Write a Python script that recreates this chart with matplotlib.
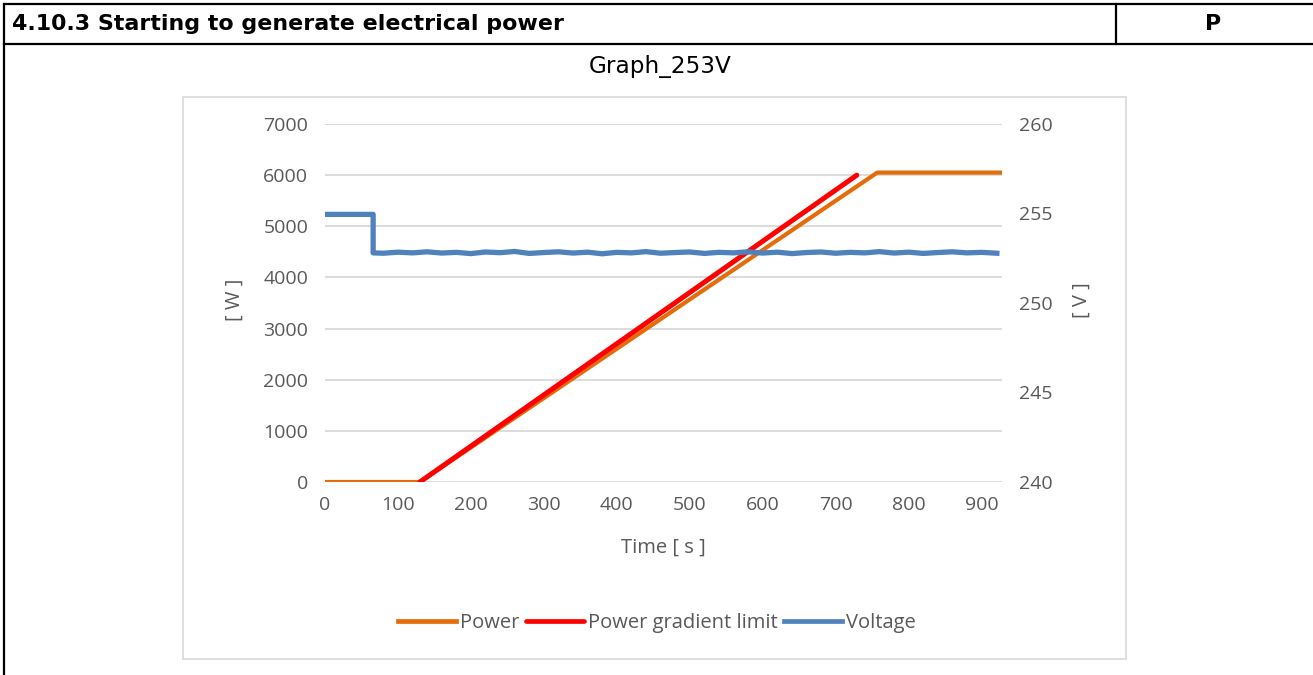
import matplotlib.pyplot as plt
from matplotlib.lines import Line2D
from matplotlib.patches import Rectangle

W, H = 1313, 675

# series
power_t = [0, 130, 757, 926]
power_w = [0, 0, 6050, 6050]

limit_t = [130, 729]
limit_w = [0, 6000]

volt_t = [0, 66, 66, 80, 100, 120, 140, 160, 180, 200, 220, 240, 260, 280, 300,
          320, 340, 360, 380, 400, 420, 440, 460, 480, 500, 520, 540, 560, 580,
          600, 620, 640, 660, 680, 700, 720, 740, 760, 780, 800, 820, 840, 860,
          880, 900, 921]
volt_v = [254.95, 254.95, 252.80, 252.78, 252.84, 252.80, 252.86, 252.79, 252.83,
          252.76, 252.85, 252.81, 252.88, 252.77, 252.82, 252.86, 252.79, 252.84,
          252.75, 252.83, 252.80, 252.87, 252.78, 252.82, 252.85, 252.77, 252.83,
          252.80, 252.86, 252.79, 252.84, 252.76, 252.82, 252.85, 252.78, 252.83,
          252.80, 252.87, 252.79, 252.84, 252.77, 252.82, 252.86, 252.80, 252.83,
          252.78]

x_ticks = [0, 100, 200, 300, 400, 500, 600, 700, 800, 900]
w_ticks = [0, 1000, 2000, 3000, 4000, 5000, 6000, 7000]
v_ticks = [240, 245, 250, 255, 260]

header = '4.10.3 Starting to generate electrical power'
verdict = 'P'
title = 'Graph_253V'

ORANGE = '#E46C0A'
RED = '#FF0000'
BLUE = '#4F81BD'
GREY_TXT = '#595959'
GRID = '#D9D9D9'

plt.rcParams['font.family'] = ['Open Sans', 'DejaVu Sans']

fig = plt.figure(figsize=(W / 100, H / 100), dpi=100)


def fx(px):
    return px / W


def fy(py):
    return 1 - py / H


# table frame
frame = dict(color='black', lw=1.6, transform=fig.transFigure)
fig.add_artist(Line2D([fx(4), 1], [fy(4), fy(4)], **frame))
fig.add_artist(Line2D([fx(4), 1], [fy(44), fy(44)], **frame))
fig.add_artist(Line2D([fx(4), fx(4)], [fy(4), 0], **frame))
fig.add_artist(Line2D([fx(1116), fx(1116)], [fy(4), fy(44)], **frame))

fig.text(fx(12), fy(24), header, family='DejaVu Sans', fontweight='bold',
         fontsize=15.9, va='center', ha='left')
fig.text(fx(1213), fy(24), verdict, family='DejaVu Sans', fontweight='bold',
         fontsize=15.9, va='center', ha='center')
fig.text(fx(660), fy(66), title, family='DejaVu Sans', fontsize=16.7,
         va='center', ha='center')

# chart box
fig.add_artist(Rectangle((fx(183), fy(659)), fx(1126) - fx(183), fy(97) - fy(659),
                         transform=fig.transFigure, fill=False, ec=GRID, lw=1.2))

ax = fig.add_axes([fx(325), fy(482), fx(1002) - fx(325), fy(124) - fy(482)])
ax2 = ax.twinx()

l1, = ax.plot(power_t, power_w, color=ORANGE, lw=3.0, zorder=3)
l2, = ax.plot(limit_t, limit_w, color=RED, lw=3.6, solid_capstyle='round', zorder=4)
l3, = ax2.plot(volt_t, volt_v, color=BLUE, lw=3.8, zorder=5)

ax.set_xlim(0, 928)
ax.set_ylim(0, 7000)
ax2.set_ylim(240, 260)
ax.set_xticks(x_ticks)
ax.set_yticks(w_ticks)
ax2.set_yticks(v_ticks)

ax.grid(axis='y', color=GRID, lw=1.3)
ax.set_axisbelow(True)
for a in (ax, ax2):
    for s in a.spines.values():
        s.set_visible(False)
    a.tick_params(length=0, labelsize=14, labelcolor=GREY_TXT)
ax.tick_params(axis='y', pad=12)
ax.tick_params(axis='x', pad=10)
ax2.tick_params(axis='y', pad=12)

fig.text(fx(663), fy(548), 'Time [ s ]', fontsize=14.5, color=GREY_TXT,
         ha='center', va='center')
fig.text(fx(235), fy(300), '[ W ]', fontsize=14.5, color=GREY_TXT,
         ha='center', va='center', rotation=90)
fig.text(fx(1082), fy(300), '[ V ]', fontsize=14.5, color=GREY_TXT,
         ha='center', va='center', rotation=90)

leg = fig.legend([l1, l2, l3], ['Power', 'Power gradient limit', 'Voltage'],
                 loc='center', bbox_to_anchor=(fx(657), fy(623)), ncol=3,
                 frameon=False, fontsize=14.5, handlelength=2.9, handletextpad=0.2,
                 columnspacing=0.3, borderpad=0)
for t in leg.get_texts():
    t.set_color(GREY_TXT)
for h in leg.get_lines():
    h.set_linewidth(3.4)

fig.savefig('out.png', dpi=100)
